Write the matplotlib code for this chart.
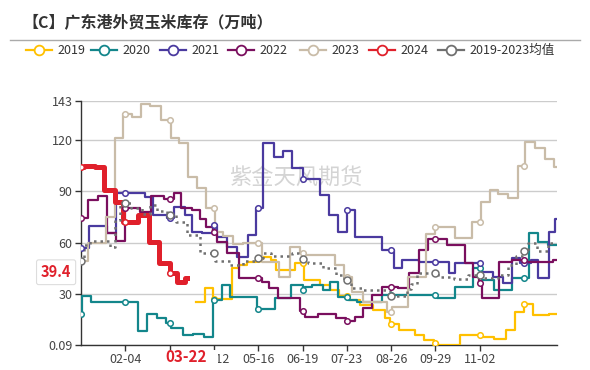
import matplotlib
matplotlib.use("Agg")
import matplotlib.pyplot as plt
from matplotlib.lines import Line2D
from matplotlib.patches import Rectangle
import numpy as np

plt.rcParams["font.family"] = ["Noto Sans CJK SC", "DejaVu Sans"]

TITLE = "【C】广东港外贸玉米库存（万吨）"
WATERMARK = "紫金天风期货"

# weekly inventory, stored as step change points: day of year (0 = 01-01) -> level
d2019 = [88, 95, 101, 116, 121, 127, 134, 140, 146, 150, 164, 171, 183, 191, 198, 206, 214, 224, 233, 237,
         244, 256, 263, 271, 274, 291, 307, 317, 326, 333, 340, 347, 359]
v2019 = [25.4, 33.3, 27, 45, 47, 48.8, 50.4, 51.4, 49.8, 44, 47.9, 38.1, 35.2, 32.3, 29, 26.4, 23.5, 20.6, 15.7, 12.2,
         8.9, 6, 3, 1.1, 0.3, 5.9, 5, 3.5, 8.7, 19.6, 23.9, 17.5, 18]

d2020 = [0, 1, 8, 44, 51, 58, 65, 69, 78, 86, 94, 101, 108, 114, 135, 149, 161, 170, 172, 177,
         186, 191, 197, 205, 212, 231, 273, 287, 301, 308, 317, 331, 344, 351, 358]
v2020 = [18, 28.7, 25, 8, 18.4, 16, 13.1, 9.8, 6, 6.5, 4.6, 26.4, 35.2, 28, 21, 27.6, 35.2, 32.3, 34.2, 35.2,
         32.3, 37.1, 28.3, 26.4, 25.4, 29.3, 27.4, 34.2, 45, 38.1, 32.3, 39, 65.4, 60.5, 58.6]

d2021 = [0, 6, 20, 27, 49, 55, 66, 71, 80, 85, 93, 101, 104, 112, 120, 128, 134, 140, 148, 155,
         162, 170, 183, 190, 197, 204, 210, 231, 240, 246, 259, 282, 287, 307, 316, 324, 331, 337, 345, 351,
         359, 364]
v2021 = [56.7, 69.9, 65.4, 88.8, 86.8, 76, 74.2, 81, 76, 66.4, 65.4, 70.3, 63.4, 57.6, 51.7, 64.4, 80, 118.4, 110, 113.4,
         103.6, 97.3, 87.8, 76, 66.4, 79, 63.4, 55.7, 45, 49.8, 48.5, 42, 48, 43, 40, 36.5, 51, 48, 50, 39,
         66, 74]

d2022 = [0, 5, 13, 20, 27, 34, 45, 54, 64, 71, 77, 85, 91, 96, 101, 104, 112, 121, 139, 144,
         151, 168, 172, 182, 196, 203, 210, 216, 223, 231, 243, 252, 259, 266, 281, 295, 301, 305, 308, 321,
         331, 342, 362]
v2022 = [74.6, 85, 87.2, 65.4, 61, 80, 78, 87.2, 85.3, 89.2, 80, 79, 74, 69.3, 66.4, 60.5, 53.7, 39, 37.1, 33.3,
         27.4, 20, 16.7, 18, 15.7, 14.1, 16.7, 21.7, 29.3, 34.2, 33.3, 42, 55.7, 62, 58.6, 47.9, 40, 36.2, 27.4, 48.8,
         49.8, 48.8, 49.8]

d2023 = [0, 5, 19, 26, 32, 39, 46, 53, 61, 69, 75, 82, 89, 96, 103, 109, 117, 124, 139, 152,
         160, 168, 172, 195, 202, 208, 216, 235, 239, 251, 265, 272, 287, 300, 307, 314, 320, 328, 335, 341,
         348, 356, 363]
v2023 = [49, 60, 75, 121, 135.5, 133.6, 141, 140, 131.7, 121.4, 118, 98.5, 92, 80.4, 66.4, 64, 59.2, 60, 48.5, 40,
         57.6, 53.7, 52.7, 46.9, 40, 31.3, 25.4, 19.6, 22.5, 40, 65, 69.3, 62.5, 72.2, 84, 90.8, 88.3, 86, 105, 119,
         115.5, 109, 104.4]

d2024 = [0, 2, 11, 18, 26, 32, 44, 52, 60, 68, 74, 80]
v2024 = [104.4, 105, 104, 91, 83.5, 72, 76, 60.5, 48, 42.5, 37.2, 39.4]

dmean = [0, 2, 7, 22, 26, 30, 38, 47, 53, 58, 66, 73, 81, 91, 103, 114, 124, 134, 140, 146,
         162, 170, 174, 186, 196, 202, 207, 216, 237, 250, 253, 258, 274, 286, 297, 308, 320, 328, 334, 339,
         343, 350, 358]
vmean = [49.2, 58.6, 61, 57.6, 73, 83, 80, 77, 82, 78.4, 76, 72, 64.4, 54, 49, 47, 49.5, 50.8, 54.2, 52.3,
         54.2, 50.2, 48.3, 45, 41, 38, 33.5, 32.3, 28.5, 33, 36, 42, 40, 38.5, 41, 39, 41, 47, 52, 55,
         59.6, 55, 59.5]

xtick_labels = ["02-04", "03-09", "04-12", "05-16", "06-19", "07-23", "08-26", "09-29", "11-02"]
ytick_values = [0.09, 30, 60, 90, 120, 143]
last_day = 81
last_date = "03-22"
last_value = 39.4

YEAR_END = 365
LABEL_STEP = 34

series = [
    ("2019", d2019, v2019, YEAR_END, "#FFC000", 1.6, "-"),
    ("2020", d2020, v2020, YEAR_END, "#13868B", 1.6, "-"),
    ("2021", d2021, v2021, YEAR_END, "#4A3A9F", 1.6, "-"),
    ("2022", d2022, v2022, YEAR_END, "#7A0F5E", 1.6, "-"),
    ("2023", d2023, v2023, YEAR_END, "#C9BCA8", 1.6, "-"),
    ("2024", d2024, v2024, last_day, "#E0202B", 3.6, "-"),
    ("2019-2023均值", dmean, vmean, YEAR_END, "#707070", 1.8, (0, (1, 1.6))),
]

fig = plt.figure(figsize=(5.9, 3.7), dpi=100)
W, H = 590, 370
ax = fig.add_axes([81 / W, 1 - 345 / H, 475.7 / W, 244.3 / H])

for name, days, vals, end, color, lw, ls in series:
    xs = list(days) + [end]
    ys = list(vals) + [vals[-1]]
    ax.step(xs, ys, where="post", color=color, lw=lw, ls=ls,
            solid_joinstyle="round", zorder=3)
    mk = [d for d in range(0, YEAR_END + 1, LABEL_STEP) if days[0] <= d <= end]
    idx = np.searchsorted(days, mk, side="right") - 1
    msize = 5 if name.startswith("2019-") else 4
    ax.plot(mk, np.asarray(vals)[idx], ls="none", marker="o", ms=msize,
            mfc="white", mec=color, mew=1.1, zorder=4)

ax.set_xlim(0, YEAR_END)
ax.set_ylim(ytick_values[0], ytick_values[-1])
ax.set_yticks(ytick_values)
ax.set_yticklabels(["0.09", "30", "60", "90", "120", "143"])
ax.set_xticks([LABEL_STEP * (i + 1) for i in range(len(xtick_labels))])
ax.set_xticklabels(xtick_labels)
ax.tick_params(axis="both", labelsize=9, colors="#333333", length=4, width=1, pad=2)
ax.tick_params(axis="both", labelcolor="#444444")
ax.yaxis.grid(True, color="#cccccc", lw=1)
ax.set_axisbelow(True)
for side in ("top", "right"):
    ax.spines[side].set_visible(False)
for side in ("left", "bottom"):
    ax.spines[side].set_color("#333333")
    ax.spines[side].set_linewidth(1)

ax.text(0.452, 0.684, WATERMARK, transform=ax.transAxes, fontsize=16,
        color="#d4d4d4", ha="center", va="center", zorder=1)

# axis-pointer label for the latest date: white plate below the ticks, red text on it
xt = ax.get_xaxis_transform()
ax.add_patch(Rectangle((last_day - 27.5, -0.092), 52, 0.07, transform=xt,
                       fc="white", ec="none", clip_on=False, zorder=9))
ax.annotate(last_date, xy=(last_day, 0), xycoords=xt,
            xytext=(0, -9), textcoords="offset points", ha="center", va="center",
            fontsize=11, fontweight="bold", color="#E0202B", zorder=10,
            annotation_clip=False)
ax.annotate(f"{last_value}", xy=(0, last_value), xycoords=ax.get_yaxis_transform(),
            xytext=(-7, 4), textcoords="offset points", ha="right", va="center",
            fontsize=10.5, fontweight="bold", color="#E0202B", zorder=10,
            annotation_clip=False,
            bbox=dict(boxstyle="round,pad=0.3,rounding_size=0.15", fc="white", ec="#dddddd", lw=0.8))

# title, separator and legend
fig.text(22 / W, 1 - 22 / H, TITLE, ha="left", va="center", fontsize=11.5,
         fontweight="bold", color="#333333")
fig.add_artist(Line2D([10 / W, 580 / W], [1 - 40 / H, 1 - 40 / H], color="#aaaaaa", lw=1))

legend_x = [39, 104, 173, 241, 313, 382, 451]
ly = 1 - 50 / H
for (name, days, vals, end, color, lw, ls), cx in zip(series, legend_x):
    fig.add_artist(Line2D([(cx - 13) / W, (cx + 13) / W], [ly, ly], color=color, lw=1.6))
    fig.add_artist(Line2D([cx / W], [ly], marker="o", ms=7, mfc="white", mec=color, mew=1.3))
    fig.text((cx + 18) / W, ly, name, ha="left", va="center", fontsize=9, color="#333333")

fig.savefig("out.png", dpi=100)
